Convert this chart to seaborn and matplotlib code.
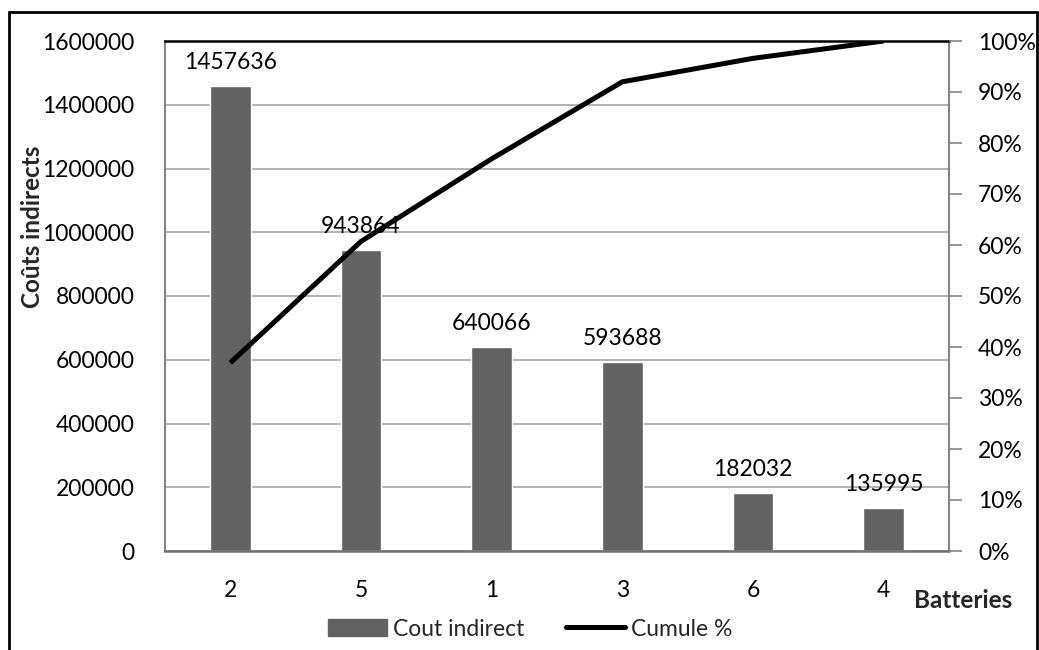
import matplotlib
matplotlib.use("Agg")
import matplotlib.pyplot as plt
import seaborn as sns
import pandas as pd
from matplotlib.ticker import PercentFormatter, FuncFormatter
from matplotlib.lines import Line2D
from matplotlib.patches import Patch

# ---- data ----
batteries = ["2", "5", "1", "3", "6", "4"]
cout_indirect = [1457636, 943864, 640066, 593688, 182032, 135995]
cumule_pct = [0.369, 0.607, 0.769, 0.920, 0.966, 1.000]

sns.set_theme(style="white")
plt.rcParams["font.family"] = ["Lato", "DejaVu Sans"]

W, H = 1039, 650
fig = plt.figure(figsize=(W / 100, H / 100), dpi=100)
left, right, top, bottom = 165, 949, 41, 551
ax = fig.add_axes([left / W, 1 - bottom / H, (right - left) / W, (bottom - top) / H])

df = pd.DataFrame({"Batteries": batteries, "Cout indirect": cout_indirect,
                   "Cumule": cumule_pct})

bar_color = "#626262"
sns.barplot(data=df, x="Batteries", y="Cout indirect", order=batteries,
            color=bar_color, width=0.31, saturation=1, ax=ax, zorder=2)
ax.set_ylim(0, 1600000)
ax.set_yticks(range(0, 1600001, 200000))
ax.yaxis.set_major_formatter(FuncFormatter(lambda v, p: f"{int(v)}"))
ax.grid(axis="y", color="#a6a6a6", linewidth=1.2, zorder=0)
ax.set_axisbelow(True)
ax.tick_params(axis="y", length=0, pad=22, labelsize=16.5, labelcolor="black")
ax.tick_params(axis="x", length=0, pad=21, labelsize=16.5, labelcolor="black")
ax.set_xlabel("")
ax.set_ylabel("")
for s in ["left", "right"]:
    ax.spines[s].set_color("#868686")
    ax.spines[s].set_linewidth(1.5)
ax.spines["bottom"].set_color("#707070")
ax.spines["bottom"].set_linewidth(1.8)
ax.spines["top"].set_color("black")
ax.spines["top"].set_linewidth(1.8)

for i, v in enumerate(cout_indirect):
    ax.annotate(f"{v}", xy=(i, v), xytext=(0, 17), textcoords="offset points",
                ha="center", va="center", fontsize=16.5, color="black")

ax2 = ax.twinx()
sns.pointplot(data=df, x="Batteries", y="Cumule", order=batteries, color="black",
              markers="", linewidth=3.6, errorbar=None, ax=ax2)
ax2.set_ylim(0, 1.0)
ax2.set_yticks([i / 10 for i in range(11)])
ax2.yaxis.set_major_formatter(PercentFormatter(1.0, decimals=0))
ax2.tick_params(axis="y", length=9, width=1.2, color="#868686", pad=12,
                labelsize=16.5, labelcolor="black", direction="out")
ax2.set_ylabel("")
ax2.set_xlabel("")
for s in ax2.spines.values():
    s.set_visible(False)
for line in ax2.lines:
    line.set_solid_capstyle("butt")
    line.set_solid_joinstyle("round")

fig.text(33 / W, 1 - 227 / H, "Coûts indirects", rotation=90, ha="center",
         va="center", fontsize=17.5, fontweight="bold")
fig.text(963 / W, 1 - 600 / H, "Batteries", ha="center", va="center",
         fontsize=17.5, fontweight="bold")

handles = [Patch(facecolor=bar_color, edgecolor=bar_color),
           Line2D([0], [0], color="black", linewidth=3.6)]
fig.legend(handles, ["Cout indirect", "Cumule %"], loc="center",
           bbox_to_anchor=(530 / W, 1 - 629 / H), ncol=2, frameon=False,
           fontsize=16.5, handlelength=2.6, handletextpad=0.25, columnspacing=1.8)

# outer frame (top, left, right)
frame_kw = dict(color="black", linewidth=2, transform=fig.transFigure)
fig.add_artist(Line2D([9 / W, 1037 / W], [1 - 12 / H, 1 - 12 / H], **frame_kw))
fig.add_artist(Line2D([9 / W, 9 / W], [1 - 12 / H, 0], **frame_kw))
fig.add_artist(Line2D([1037 / W, 1037 / W], [1 - 12 / H, 0], **frame_kw))

fig.savefig("out.png", dpi=100)
